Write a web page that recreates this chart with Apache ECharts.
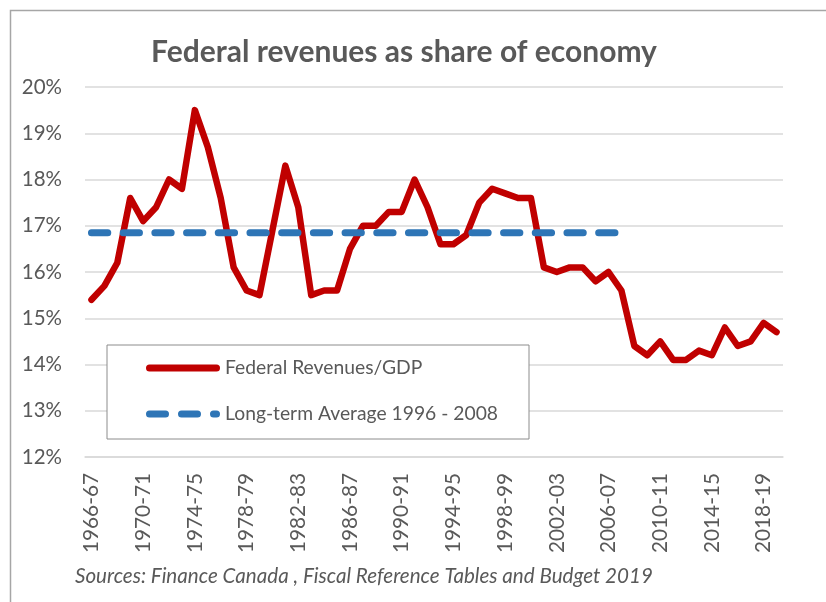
<!DOCTYPE html>
<html>
<head>
<meta charset="utf-8">
<script src="https://cdn.jsdelivr.net/npm/echarts@6/dist/echarts.min.js"></script>
<style>
html,body{margin:0;padding:0;background:#fff;}
#chart{width:826px;height:602px;}
</style>
</head>
<body>
<div id="chart"></div>
<script>
const categories = ['1966-67','1967-68','1968-69','1969-70','1970-71','1971-72','1972-73','1973-74','1974-75','1975-76',
  '1976-77','1977-78','1978-79','1979-80','1980-81','1981-82','1982-83','1983-84','1984-85','1985-86',
  '1986-87','1987-88','1988-89','1989-90','1990-91','1991-92','1992-93','1993-94','1994-95','1995-96',
  '1996-97','1997-98','1998-99','1999-00','2000-01','2001-02','2002-03','2003-04','2004-05','2005-06',
  '2006-07','2007-08','2008-09','2009-10','2010-11','2011-12','2012-13','2013-14','2014-15','2015-16',
  '2016-17','2017-18','2018-19','2019-20'];
const revenueShare = [15.4,15.7,16.2,17.6,17.1,17.4,18.0,17.8,19.5,18.7,
  17.6,16.1,15.6,15.5,16.9,18.3,17.4,15.5,15.6,15.6,
  16.5,17.0,17.0,17.3,17.3,18.0,17.4,16.6,16.6,16.8,
  17.5,17.8,17.7,17.6,17.6,16.1,16.0,16.1,16.1,15.8,
  16.0,15.6,14.4,14.2,14.5,14.1,14.1,14.3,14.2,14.8,
  14.4,14.5,14.9,14.7];
const averageValue = 16.85;
const averageStart = '1966-67';
const averageEnd = '2007-08';
const yTicks = { min: 12, max: 20, step: 1 };
const seriesNames = ['Federal Revenues/GDP', 'Long-term Average 1996 - 2008'];
const titleText = 'Federal revenues as share of economy';
const sourceText = 'Sources: Finance Canada , Fiscal Reference Tables and Budget 2019';

const TXT = '#595959';
const FONT = 'Lato, "Liberation Sans", sans-serif';
const RED = '#c00000';
const BLUE = '#2e75b6';

const capsule = (x0, x1) => `M${x0+3.5},0 L${x1-3.5},0 A3.5,3.5 0 0 1 ${x1-3.5},7 L${x0+3.5},7 A3.5,3.5 0 0 1 ${x0+3.5},0 Z`;
const redIcon = 'path://' + capsule(0, 74);
const blueIcon = 'path://' + capsule(0, 23) + ' ' + capsule(32, 55) + ' ' + capsule(64, 74);

const chart = echarts.init(document.getElementById('chart'), null, {renderer: 'canvas'});
chart.setOption({
  animation: false,
  backgroundColor: '#fff',
  title: [
    { text: titleText, left: 404, top: 52, textAlign: 'center', textVerticalAlign: 'middle', padding: 0,
      textStyle: { fontFamily: FONT, fontSize: 30, fontWeight: 'bold', color: TXT } },
    { text: sourceText, left: 75, top: 576, textVerticalAlign: 'middle', padding: 0,
      textStyle: { fontFamily: FONT, fontSize: 20.6, fontStyle: 'italic', fontWeight: 'normal', color: TXT } }
  ],
  graphic: [
    { type: 'polyline', shape: { points: [[10.5, 602], [10.5, 10.5], [826, 10.5]] },
      style: { stroke: '#a6a6a6', lineWidth: 1.5, fill: null }, silent: true }
  ],
  grid: { left: 85, right: 43, top: 87, bottom: 145, containLabel: false },
  legend: {
    orient: 'vertical', left: 107, top: 345,
    padding: [13, 31, 15, 39],
    itemGap: 26, itemWidth: 74, itemHeight: 7,
    backgroundColor: '#fff', borderColor: '#8c8c8c', borderWidth: 1, borderRadius: 0,
    itemStyle: { borderWidth: 0 },
    textStyle: { fontFamily: FONT, fontSize: 19.3, color: TXT, lineHeight: 20, padding: [0,0,0,0] },
    data: [
      { name: seriesNames[0], icon: redIcon, itemStyle: { color: RED } },
      { name: seriesNames[1], icon: blueIcon, itemStyle: { color: BLUE } }
    ]
  },
  xAxis: {
    type: 'category', data: categories, boundaryGap: true,
    axisLine: { show: true, lineStyle: { color: '#d9d9d9', width: 1.5 } },
    axisTick: { show: false },
    axisLabel: { interval: 3, rotate: 90, margin: 16, fontFamily: FONT, fontSize: 20.8, color: TXT }
  },
  yAxis: {
    type: 'value', min: yTicks.min, max: yTicks.max, interval: yTicks.step,
    axisLine: { show: false }, axisTick: { show: false },
    splitLine: { lineStyle: { color: '#d9d9d9', width: 1.5 } },
    axisLabel: { formatter: '{value}%', margin: 23, fontFamily: FONT, fontSize: 20.5, color: TXT }
  },
  series: [
    { name: seriesNames[0], type: 'line', data: revenueShare, symbol: 'none', z: 3,
      itemStyle: { color: RED },
      lineStyle: { color: RED, width: 6.5, cap: 'round', join: 'round' } },
    { name: seriesNames[1], type: 'line', data: [[averageStart, averageValue], [averageEnd, averageValue]],
      symbol: 'none', z: 4, itemStyle: { color: BLUE },
      lineStyle: { color: BLUE, width: 7, type: [16.3, 15.4], cap: 'round' } }
  ]
});
</script>
</body>
</html>
